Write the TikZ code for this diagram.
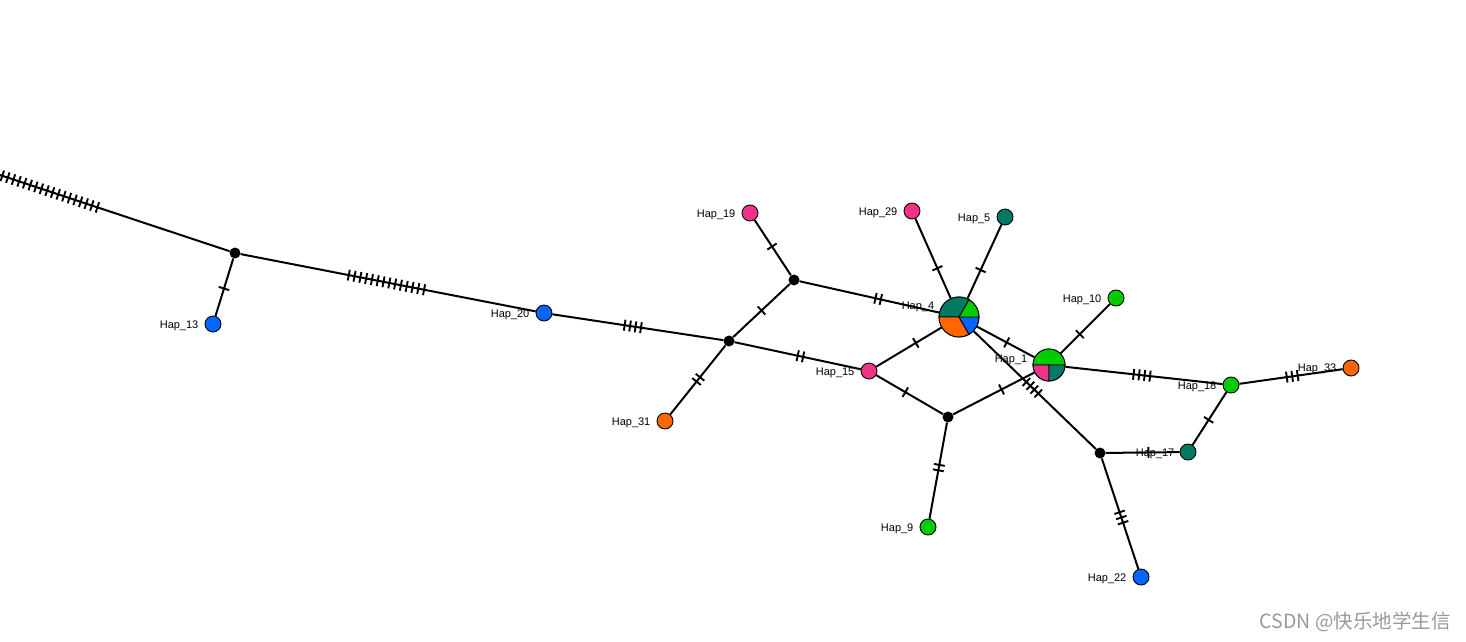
\documentclass[tikz,border=0pt]{standalone}
\usepackage{fontspec}
\setmainfont{Liberation Sans}
\newfontfamily\cjk{Noto Sans CJK SC}
\usetikzlibrary{calc,positioning}
\definecolor{cteal}{HTML}{007A64}
\definecolor{cgreen}{HTML}{00CC00}
\definecolor{cpink}{HTML}{F0338A}
\definecolor{corange}{HTML}{FF6600}
\definecolor{cblue}{HTML}{0066FF}
\pgfdeclarelayer{bg}
\pgfsetlayers{bg,main}
\tikzset{
  hap/.style={circle,draw=black,line width=0.9pt,minimum size=16pt,inner sep=0pt},
  med/.style={circle,fill=black,minimum size=11pt,inner sep=0pt},
  pie/.style={circle,draw=black,line width=0.9pt,inner sep=0pt},
  lab/.style={font=\fontsize{11}{12}\selectfont,inner sep=0pt,yshift=-1.5pt},
  edge/.style={line width=2pt,black},
  tick/.style={line width=1.9pt,black},
  sect/.style={draw=black,line width=0.9pt}
}
\newcommand\tk[5]{%
  \foreach \k in {1,...,#4}{%
    \pgfmathsetmacro\dd{(\k-(#4+1)/2)*#5}%
    \coordinate (tc) at ($(#1)!#3!(#2)$);%
    \coordinate (tp) at ($(tc)!\dd pt!(#2)$);%
    \draw[tick] ($(tp)!5.5pt!90:(#2)$) -- ($(tp)!5.5pt!-90:(#2)$);%
  }%
}
\begin{document}
\begin{tikzpicture}[x=1pt,y=-1pt]
\useasboundingbox (0,0) rectangle (1466,641);
\begin{scope}
\clip (0,0) rectangle (1466,641);
% nodes
\coordinate (L) at (-20,168.4);
\node[med] (m1) at (235,253) {};
\node[med] (m2) at (729,341) {};
\node[med] (m3) at (794,280) {};
\node[med] (m4) at (948,417) {};
\node[med] (m5) at (1100,453) {};
\node[hap,fill=cblue] (h13) at (213,324) {};
\node[hap,fill=cblue] (h20) at (544,313) {};
\node[hap,fill=corange] (h31) at (665,421) {};
\node[hap,fill=cpink] (h19) at (750,213) {};
\node[hap,fill=cpink] (h15) at (869,371) {};
\node[hap,fill=cgreen] (h9) at (928,527) {};
\node[hap,fill=cpink] (h29) at (912,211) {};
\node[hap,fill=cteal] (h5) at (1005,217) {};
\node[hap,fill=cgreen] (h10) at (1116,298) {};
\node[hap,fill=cgreen] (h18) at (1231,385) {};
\node[hap,fill=corange] (h33) at (1351,368) {};
\node[hap,fill=cteal] (h17) at (1188,452) {};
\node[hap,fill=cblue] (h22) at (1141,577) {};
\node[pie,minimum size=40pt] (h4) at (959,317) {};
\node[pie,minimum size=32pt] (h1) at (1049,365) {};
% pie Hap_4
\fill[cteal,sect] (h4.center) -- ++(-60:20) arc[start angle=-60,end angle=-180,radius=20] -- cycle;
\fill[corange,sect] (h4.center) -- ++(-180:20) arc[start angle=-180,end angle=-300,radius=20] -- cycle;
\fill[cblue,sect] (h4.center) -- ++(-300:20) arc[start angle=-300,end angle=-360,radius=20] -- cycle;
\fill[cgreen,sect] (h4.center) -- ++(0:20) arc[start angle=0,end angle=-60,radius=20] -- cycle;
% pie Hap_1
\fill[cgreen,sect] (h1.center) -- ++(0:16) arc[start angle=0,end angle=-180,radius=16] -- cycle;
\fill[cpink,sect] (h1.center) -- ++(-180:16) arc[start angle=-180,end angle=-270,radius=16] -- cycle;
\fill[cteal,sect] (h1.center) -- ++(-270:16) arc[start angle=-270,end angle=-360,radius=16] -- cycle;
% labels
\node[lab,left=6pt of h13] (l13) {Hap\_13};
\node[lab,left=6pt of h20] (l20) {Hap\_20};
\node[lab,left=6pt of h31] (l31) {Hap\_31};
\node[lab,left=6pt of h19] (l19) {Hap\_19};
\node[lab,left=6pt of h15] (l15) {Hap\_15};
\node[lab,left=6pt of h9] (l9) {Hap\_9};
\node[lab,left=6pt of h29] (l29) {Hap\_29};
\node[lab,left=6pt of h5] (l5) {Hap\_5};
\node[lab,left=6pt of h10] (l10) {Hap\_10};
\node[lab,left=6pt of h18] (l18) {Hap\_18};
\node[lab,left=6pt of h33,yshift=1pt] (l33) {Hap\_33};
\node[lab,left=5pt of h17] (l17) {Hap\_17};
\node[lab,left=6pt of h22] (l22) {Hap\_22};
\node[lab] (l4) at (918,305) {Hap\_4};
\node[lab] (l1) at (1011,358) {Hap\_1};
\node[anchor=east,text=black!40,font=\cjk\fontsize{19.5}{21}\selectfont,inner sep=0pt] (wm) at (1451,622) {CSDN @快乐地学生信};
% edges
\begin{pgfonlayer}{bg}
\draw[edge] (L) -- (m1);
\draw[edge] (m1) -- (h13);
\draw[edge] (m1) -- (h20);
\draw[edge] (h20) -- (m2);
\draw[edge] (m2) -- (h31);
\draw[edge] (m2) -- (m3);
\draw[edge] (m3) -- (h19);
\draw[edge] (m3) -- (h4);
\draw[edge] (m2) -- (h15);
\draw[edge] (h15) -- (h4);
\draw[edge] (h15) -- (m4);
\draw[edge] (m4) -- (h9);
\draw[edge] (m4) -- (h1);
\draw[edge] (h4) -- (h29);
\draw[edge] (h4) -- (h5);
\draw[edge] (h4) -- (h1);
\draw[edge] (h4) -- (m5);
\draw[edge] (h1) -- (h10);
\draw[edge] (h1) -- (h18);
\draw[edge] (h18) -- (h33);
\draw[edge] (h18) -- (h17);
\draw[edge] (m5) -- (h17);
\draw[edge] (m5) -- (h22);
% ticks
\tk{m1}{L}{0.759}{21}{5.9}
\tk{m1}{h13}{0.5}{1}{5.5}
\tk{m1}{h20}{0.49}{14}{5.9}
\tk{h20}{m2}{0.48}{4}{5.5}
\tk{m2}{h31}{0.48}{2}{5.5}
\tk{m2}{m3}{0.5}{1}{5.5}
\tk{m3}{h19}{0.5}{1}{5.5}
\tk{m3}{h4}{0.51}{2}{5.5}
\tk{m2}{h15}{0.51}{2}{5.5}
\tk{h15}{h4}{0.52}{1}{5.5}
\tk{h15}{m4}{0.46}{1}{5.5}
\tk{m4}{h9}{0.46}{2}{5.5}
\tk{m4}{h1}{0.53}{1}{5.5}
\tk{h4}{h29}{0.46}{1}{5.5}
\tk{h4}{h5}{0.47}{1}{5.5}
\tk{h4}{h1}{0.53}{1}{5.5}
\tk{h4}{m5}{0.52}{4}{5.5}
\tk{h1}{h10}{0.46}{1}{5.5}
\tk{h1}{h18}{0.51}{4}{5.5}
\tk{h18}{h33}{0.51}{3}{5.5}
\tk{h18}{h17}{0.52}{1}{5.5}
\tk{m5}{h17}{0.55}{1}{5.5}
\tk{m5}{h22}{0.52}{3}{5.5}
\end{pgfonlayer}
\end{scope}
\end{tikzpicture}
\end{document}
